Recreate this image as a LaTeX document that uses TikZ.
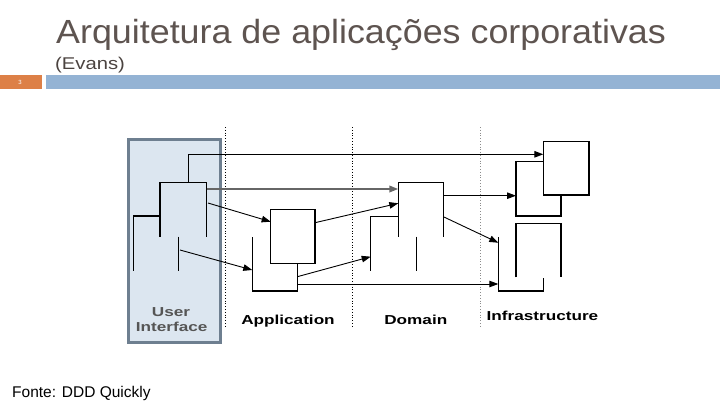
\documentclass[tikz,border=0pt]{standalone}
\usepackage{fontspec}
\setmainfont{Liberation Sans}
\usetikzlibrary{arrows.meta}
\definecolor{titlecol}{RGB}{94,84,80}
\definecolor{barorange}{RGB}{221,128,71}
\definecolor{barblue}{RGB}{148,179,212}
\definecolor{uifill}{RGB}{220,230,240}
\definecolor{uiedge}{RGB}{110,127,144}
\definecolor{uitext}{RGB}{85,85,85}
\tikzset{
  shp/.style={line width=1.2pt, black},
  arr/.style={line width=0.9pt, black, -{Triangle[length=9pt,width=6.5pt]}},
  garr/.style={line width=2pt, black!60, -{Triangle[length=9pt,width=6.5pt]}},
  sep/.style={dotted, line width=0.8pt},
  lbl/.style={font=\bfseries\fontsize{13}{13}\selectfont, xscale=1.32, anchor=base, inner sep=0pt}
}
\begin{document}
\begin{tikzpicture}[x=1pt,y=-1pt]
\useasboundingbox (0,0) rectangle (720,405);
% header
\node[anchor=base west, inner sep=0pt, text=titlecol, xscale=1.07,
  font=\fontsize{33.5}{33.5}\selectfont] (title) at (56,43.3) {Arquitetura de aplicações corporativas};
\node[anchor=base west, inner sep=0pt, text=titlecol!80!black, xscale=1.19,
  font=\fontsize{17}{17}\selectfont] (sub) at (55,69.3) {(Evans)};
\fill[barorange] (0,75) rectangle (42.3,89.3);
\fill[barblue] (45.7,75) rectangle (720,89.3);
\node[text=white, font=\fontsize{6}{6}\selectfont, inner sep=0pt] (num) at (20,82.2) {3};
% UI box
\draw[fill=uifill, draw=uiedge, line width=3pt] (128,139) rectangle (220,342);
% separators
\draw[sep] (225.7,127) -- (225.7,328);
\draw[sep] (352,127) -- (352,328);
\draw[sep, black!45] (480,127) -- (480,328);
% coordinates
\coordinate (u1) at (188.3,182.3);
\coordinate (u1c) at (188.3,154.3);
\coordinate (e1) at (543.3,154.3);
\coordinate (u2) at (206.7,189);
\coordinate (c1) at (398.3,189);
\coordinate (u3) at (208,203);
\coordinate (a1) at (270.7,221.7);
\coordinate (u4) at (180,250);
\coordinate (b1) at (252.3,270);
\coordinate (a2) at (315,222.7);
\coordinate (c2) at (398.3,203.3);
\coordinate (b2) at (297.3,276.7);
\coordinate (d1) at (370.7,256.7);
\coordinate (b3) at (297.3,284);
\coordinate (h1) at (498.3,284);
\coordinate (c3) at (443.3,195.7);
\coordinate (f1) at (516,195.7);
\coordinate (c4) at (443.3,216.7);
\coordinate (h2) at (498.3,242.7);
% UI shapes
\draw[shp] (160,236.7) -- (160,182.3) -- (206.7,182.3) -- (206.7,236.7);
\draw[shp] (133.3,270.7) -- (133.3,216) -- (160,216);
\draw[shp] (178.3,236.7) -- (178.3,270.7);
% Application shapes
\draw[shp] (270.7,209.3) rectangle (315,263.3);
\draw[shp] (252.3,237.3) -- (252.3,291) -- (297.3,291) -- (297.3,263.3);
% Domain shapes
\draw[shp] (398.3,236.7) -- (398.3,182.3) -- (443.3,182.3) -- (443.3,236.7);
\draw[shp] (370.7,270.7) -- (370.7,216.7) -- (398.3,216.7);
\draw[shp] (416.7,236.7) -- (416.7,270.7);
% Infrastructure shapes
\draw[shp] (543.3,141.7) rectangle (589,195);
\draw[shp] (543.3,161.7) -- (516,161.7) -- (516,216) -- (561,216) -- (561,195);
\draw[shp] (516,277.3) -- (516,223.3) -- (561,223.3) -- (561,277.3);
\draw[shp] (498.3,237.3) -- (498.3,291) -- (543.3,291) -- (543.3,278);
% connectors
\draw[shp, -{Triangle[length=9pt,width=6.5pt]}] (u1) -- (u1c) -- (e1);
\draw[garr] (u2) -- (c1);
\draw[arr] (u3) -- (a1);
\draw[arr] (u4) -- (b1);
\draw[arr] (a2) -- (c2);
\draw[arr] (b2) -- (d1);
\draw[arr] (b3) -- (h1);
\draw[arr] (c3) -- (f1);
\draw[arr] (c4) -- (h2);
% labels
\node[lbl, text=uitext] (ui1) at (171,316.7) {User};
\node[lbl, text=uitext] (ui2) at (171.7,331.7) {Interface};
\node[lbl] (app) at (288,324.3) {Application};
\node[lbl] (dom) at (415.8,324.3) {Domain};
\node[lbl] (inf) at (542.5,320) {Infrastructure};
% footer
\node[anchor=base west, inner sep=0pt, font=\fontsize{15.5}{15.5}\selectfont] (src) at (12,397.5) {Fonte: DDD Quickly};
\end{tikzpicture}
\end{document}
